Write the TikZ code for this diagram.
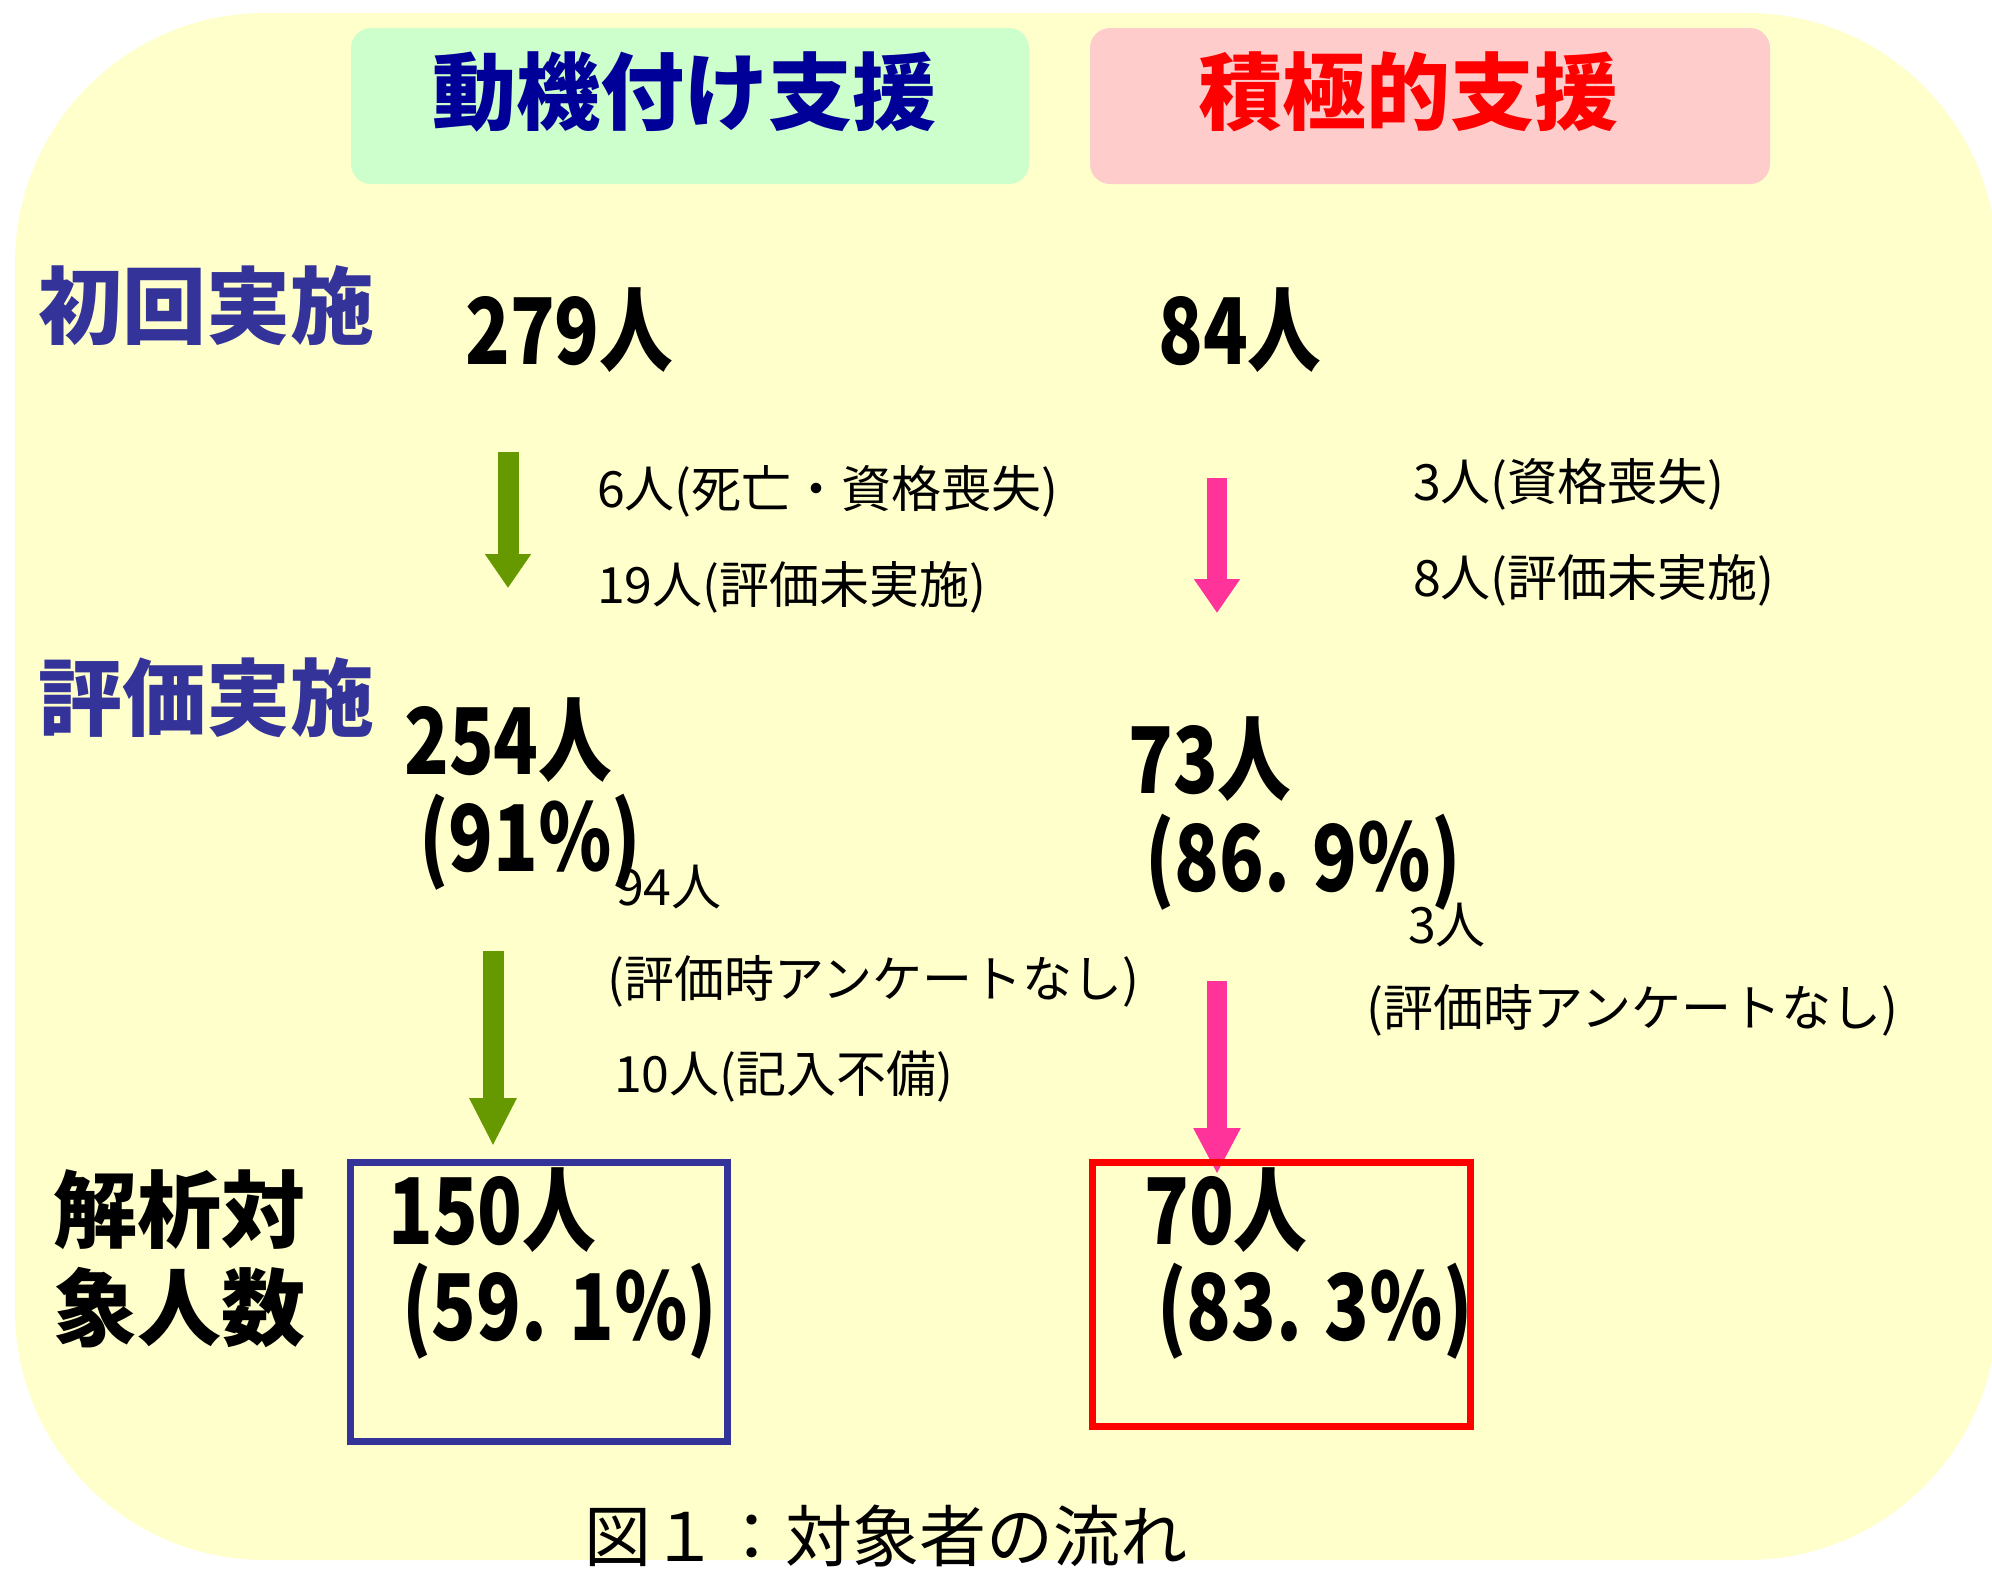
\documentclass[tikz,border=0pt]{standalone}
\usepackage{fontspec}
\usetikzlibrary{arrows.meta}
\newfontfamily\jp{Noto Sans CJK JP}
\newfontfamily\jpnum{Noto Sans CJK JP}[FakeStretch=0.8]
\definecolor{bgyel}{HTML}{FFFFCC}
\definecolor{hdrgreen}{HTML}{CCFFCC}
\definecolor{hdrpink}{HTML}{FFCCCC}
\definecolor{navy}{HTML}{000099}
\definecolor{slateblue}{HTML}{333399}
\definecolor{agreen}{HTML}{669900}
\definecolor{apink}{HTML}{FF3399}
\tikzset{
  hdrbox/.style={rounded corners=20pt},
  hdrtext/.style={inner sep=0pt, font=\jp\bfseries\fontsize{84}{90}\selectfont},
  rowlabel/.style={inner sep=0pt, anchor=west, text=slateblue, font=\jp\bfseries\fontsize{84}{90}\selectfont},
  blacklabel/.style={inner sep=0pt, anchor=west, text=black, font=\jp\bfseries\fontsize{84}{90}\selectfont},
  bignum/.style={inner sep=0pt, anchor=west, font=\jpnum\bfseries\fontsize{92}{96}\selectfont},
  note/.style={inner sep=0pt, anchor=west, font=\jp\fontsize{50}{54}\selectfont},
  garrow/.style={draw=agreen, line width=21pt, -{Triangle[width=44pt,length=34pt]}},
  parrow/.style={draw=apink, line width=20pt, -{Triangle[width=44pt,length=34pt]}},
  resbox/.style={line width=7pt}
}
\begin{document}
\begin{tikzpicture}[x=1pt,y=-1pt]
\useasboundingbox (0,0) rectangle (1992,1572);
% background
\fill[bgyel, rounded corners=250pt] (15,13) rectangle (1997,1560);
% headers
\fill[hdrgreen, hdrbox] (351,28) rectangle (1029,184);
\fill[hdrpink, hdrbox] (1090,28) rectangle (1770,184);
\node[hdrtext, text=navy] (hdrA) at (684,92) {動機付け支援};
\node[hdrtext, text=red] (hdrB) at (1408,92) {積極的支援};
% row labels
\node[rowlabel] (labA) at (38,306) {初回実施};
\node[rowlabel] (labB) at (38,698) {評価実施};
\node[blacklabel] (labC1) at (53,1210) {解析対};
\node[blacklabel] (labC2) at (53,1308) {象人数};
% numbers
\node[bignum] (n279) at (465,330) {279人};
\node[bignum] (n84) at (1158,330) {84人};
\node[bignum] (n254) at (404,740) {254人};
\node[bignum] (p91) at (419,842) {(91％)};
\node[bignum] (n73) at (1128,759) {73人};
\node[bignum] (p869) at (1145,862) {(86. 9％)};
\node[bignum] (n150) at (388,1210) {150人};
\node[bignum] (p591) at (402,1311) {(59. 1％)};
\node[bignum] (n70) at (1144,1210) {70人};
\node[bignum] (p833) at (1157,1311) {(83. 3％)};
% notes
\node[note] (t1) at (597,491) {6人(死亡・資格喪失)};
\node[note] (t2) at (597,587) {19人(評価未実施)};
\node[note] (t3) at (1413,484) {3人(資格喪失)};
\node[note] (t4) at (1413,580) {8人(評価未実施)};
\node[note] (t5) at (616,887) {94人};
\node[note] (t6) at (607,981) {(評価時アンケートなし)};
\node[note] (t7) at (614,1077) {10人(記入不備)};
\node[note] (t8) at (1408,925) {3人};
\node[note] (t9) at (1366,1010) {(評価時アンケートなし)};
% arrows
\coordinate (gA1) at (508,452); \coordinate (gA2) at (508,588);
\coordinate (pA1) at (1217,478); \coordinate (pA2) at (1217,613);
\coordinate (gB1) at (493,951); \coordinate (gB2) at (493,1146);
\coordinate (pB1) at (1217,981); \coordinate (pB2) at (1217,1174);
\draw[garrow] (gA1) -- (gA2);
\draw[parrow] (pA1) -- (pA2);
\draw[garrow, -{Triangle[width=44pt,length=48pt]}] (gB1) -- (gB2);
\draw[parrow, -{Triangle[width=44pt,length=46pt]}] (pB1) -- (pB2);
% result boxes
\draw[resbox, draw=slateblue] (350,1162) rectangle (727,1441);
\draw[resbox, draw=red] (1092,1162) rectangle (1470,1426);
% caption
\node[inner sep=0pt, font=\jp\fontsize{67}{70}\selectfont] (cap) at (886,1536) {図１：対象者の流れ};
\end{tikzpicture}
\end{document}
